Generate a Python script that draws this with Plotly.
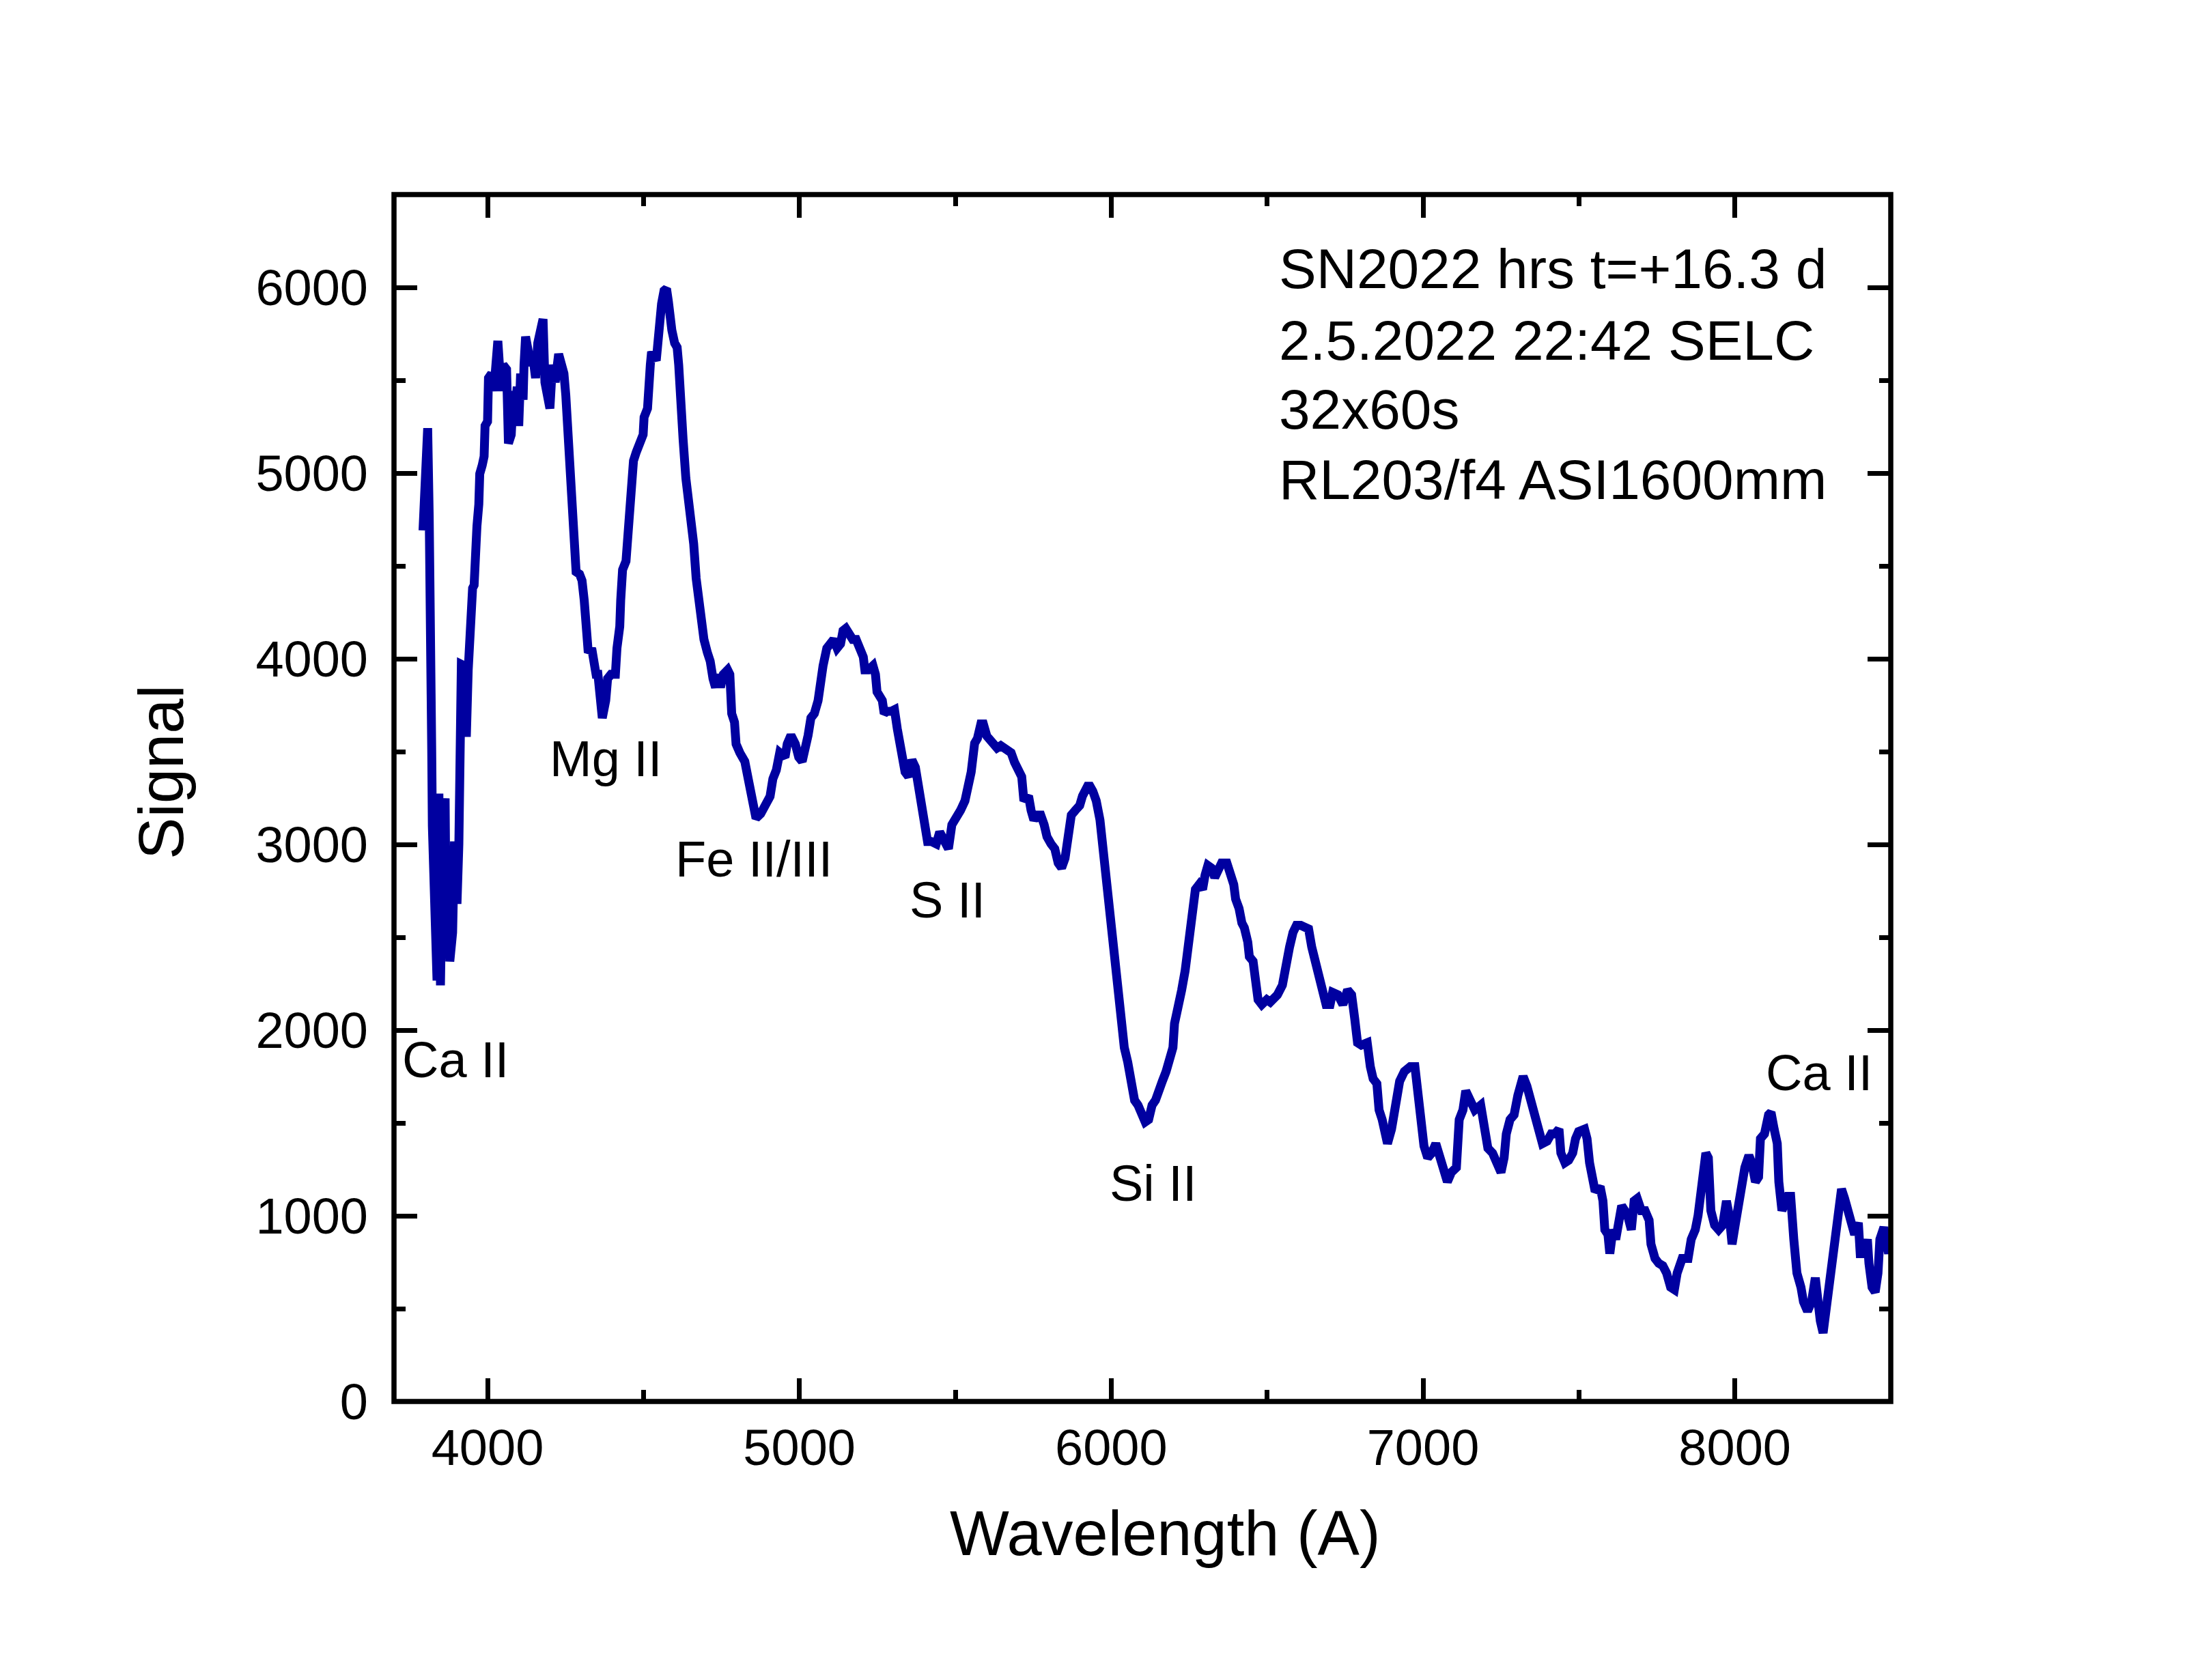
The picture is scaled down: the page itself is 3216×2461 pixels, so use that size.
import plotly.graph_objects as go

# ---- data ----
WAVELENGTH = [
    3793, 3799, 3808, 3813, 3816, 3819, 3821, 3823, 3826, 3830, 3838, 3844, 3849, 3857, 3864, 3868,
    3875, 3879, 3888, 3894, 3902, 3908, 3912, 3916, 3928, 3932, 3938, 3944, 3952, 3957, 3961, 3966,
    3972, 3975, 3983, 3989, 3992, 4000, 4003, 4013, 4020, 4024, 4033, 4039, 4044, 4050, 4061, 4067,
    4076, 4083, 4087, 4095, 4100, 4106, 4114, 4117, 4122, 4131, 4139, 4147, 4154, 4161, 4169, 4178,
    4184, 4189, 4195, 4200, 4208, 4217, 4228, 4236, 4245, 4251, 4256, 4264, 4267, 4273, 4279, 4284,
    4295, 4303, 4310, 4318, 4323, 4334, 4342, 4348, 4354, 4359, 4368, 4379, 4385, 4396, 4410, 4415,
    4424, 4427, 4433, 4444, 4452, 4459, 4468, 4477, 4488, 4499, 4502, 4513, 4522, 4526, 4541, 4546,
    4552, 4558, 4566, 4574, 4580, 4583, 4591, 4600, 4608, 4613, 4619, 4627, 4636, 4645, 4652, 4661,
    4669, 4678, 4686, 4694, 4705, 4714, 4723, 4731, 4738, 4747, 4756, 4770, 4777, 4783, 4792, 4797,
    4809, 4825, 4836, 4845, 4853, 4861, 4876, 4892, 4906, 4915, 4926, 4937, 4954, 4961, 4973, 4987,
    4998, 5009, 5017, 5028, 5037, 5048, 5060, 5069, 5076, 5088, 5099, 5110, 5121, 5132, 5140, 5149,
    5158, 5171, 5182, 5194, 5205, 5210, 5221, 5236, 5244, 5249, 5258, 5266, 5272, 5281, 5294, 5305,
    5314, 5325, 5339, 5350, 5361, 5372, 5383, 5395, 5406, 5411, 5423, 5439, 5450, 5462, 5478, 5489,
    5501, 5517, 5531, 5540, 5551, 5562, 5571, 5582, 5590, 5601, 5618, 5634, 5646, 5662, 5679, 5690,
    5701, 5713, 5720, 5735, 5743, 5752, 5763, 5774, 5785, 5794, 5807, 5819, 5830, 5841, 5852, 5863,
    5872, 5885, 5899, 5908, 5919, 5928, 5941, 5952, 5964, 5975, 5986, 5997, 6008, 6019, 6031, 6042,
    6053, 6064, 6075, 6086, 6097, 6109, 6120, 6131, 6142, 6153, 6164, 6176, 6187, 6198, 6203, 6215,
    6226, 6237, 6245, 6251, 6263, 6270, 6282, 6293, 6301, 6310, 6321, 6332, 6343, 6354, 6371, 6382,
    6393, 6399, 6410, 6419, 6427, 6438, 6443, 6455, 6463, 6471, 6483, 6499, 6510, 6521, 6533, 6549,
    6555, 6561, 6572, 6583, 6594, 6608, 6620, 6633, 6643, 6651, 6660, 6670, 6680, 6689, 6702, 6710,
    6727, 6743, 6758, 6771, 6781, 6790, 6802, 6821, 6831, 6840, 6852, 6859, 6869, 6877, 6886, 6899,
    6909, 6919, 6925, 6940, 6959, 6974, 6984, 6994, 7003, 7015, 7028, 7041, 7053, 7066, 7078, 7091,
    7107, 7116, 7128, 7137, 7154, 7166, 7185, 7195, 7208, 7223, 7238, 7250, 7260, 7267, 7279, 7292,
    7304, 7313, 7321, 7333, 7346, 7354, 7363, 7373, 7383, 7398, 7411, 7423, 7436, 7442, 7455, 7467,
    7480, 7489, 7499, 7518, 7526, 7534, 7543, 7552, 7568, 7577, 7583, 7593, 7599, 7609, 7618, 7627,
    7637, 7647, 7656, 7668, 7677, 7687, 7700, 7712, 7725, 7731, 7744, 7756, 7769, 7781, 7794, 7806,
    7815, 7831, 7850, 7860, 7873, 7882, 7894, 7907, 7915, 7923, 7935, 7948, 7961, 7973, 7982, 7991,
    8001, 8011, 8020, 8032, 8045, 8054, 8066, 8076, 8082, 8095, 8108, 8116, 8126, 8136, 8141, 8151,
    8170, 8179, 8189, 8199, 8212, 8220, 8233, 8246, 8258, 8264, 8274, 8283, 8290, 8300, 8312, 8321,
    8330, 8342, 8352, 8365, 8375, 8384, 8396, 8402, 8415, 8425, 8430, 8440, 8450, 8459, 8465, 8478,
    8493, 8500,
]
SIGNAL = [
    4691, 4949, 5242, 4761, 4479, 3900, 3500, 3100, 2800, 2758, 2267, 3274, 2241, 3093, 3248, 2422,
    2887, 2370, 2525, 3016, 2680, 3000, 3300, 3970, 3960, 3580, 3940, 4245, 4380, 4397, 4620, 4714,
    4832, 4996, 5043, 5090, 5254, 5278, 5512, 5536, 5442, 5583, 5712, 5559, 5442, 5583, 5559, 5160,
    5207, 5442, 5278, 5465, 5254, 5536, 5395, 5583, 5735, 5653, 5583, 5606, 5512, 5700, 5794, 5829,
    5489, 5418, 5371, 5348, 5583, 5489, 5641, 5583, 5536, 5418, 5278, 5137, 4902, 4738, 4573, 4468,
    4456, 4421, 4315, 4127, 4033, 4057, 3963, 3916, 3916, 3799, 3681, 3775, 3893, 3916, 3916, 4057,
    4174, 4315, 4479, 4526, 4714, 4832, 5066, 5113, 5160, 5207, 5301, 5348, 5583, 5653, 5606, 5723,
    5794, 5911, 5982, 5993, 5923, 5817, 5770, 5700, 5677, 5583, 5348, 5184, 4972, 4855, 4691, 4620,
    4433, 4268, 4245, 4104, 4033, 3987, 3893, 3846, 3916, 3846, 3916, 3940, 3916, 3705, 3658, 3541,
    3494, 3447, 3353, 3282, 3235, 3141, 3165, 3212, 3259, 3353, 3400, 3494, 3470, 3541, 3588, 3541,
    3470, 3447, 3541, 3588, 3681, 3705, 3775, 3916, 3963, 4057, 4080, 4104, 4057, 4080, 4151, 4163,
    4139, 4104, 4104, 4057, 4010, 3940, 3940, 3963, 3916, 3822, 3799, 3775, 3705, 3717, 3717, 3726,
    3623, 3494, 3390, 3365, 3455, 3416, 3313, 3210, 3080, 3016, 3016, 3003, 3067, 3016, 2977, 3106,
    3132, 3184, 3235, 3287, 3390, 3545, 3571, 3649, 3649, 3584, 3558, 3519, 3532, 3519, 3494, 3442,
    3390, 3365, 3235, 3261, 3184, 3132, 3158, 3158, 3106, 3042, 3003, 2977, 2900, 2874, 2926, 3029,
    3158, 3184, 3210, 3261, 3313, 3326, 3287, 3235, 3132, 2951, 2800, 2600, 2422, 2216, 2061, 1906,
    1828, 1725, 1622, 1596, 1544, 1505, 1518, 1596, 1622, 1660, 1725, 1777, 1828, 1906, 2035, 2112,
    2216, 2319, 2422, 2551, 2655, 2758, 2784, 2758, 2835, 2887, 2874, 2822, 2861, 2900, 2900, 2848,
    2784, 2706, 2655, 2577, 2551, 2474, 2396, 2371, 2293, 2164, 2138, 2164, 2151, 2164, 2190, 2242,
    2319, 2396, 2448, 2526, 2564, 2564, 2551, 2545, 2448, 2396, 2319, 2280, 2190, 2138, 2138, 2203,
    2190, 2138, 2216, 2190, 2061, 1932, 1919, 1932, 1803, 1738, 1712, 1570, 1518, 1415, 1389, 1467,
    1570, 1648, 1725, 1777, 1803, 1803, 1648, 1518, 1376, 1312, 1338, 1389, 1325, 1247, 1183, 1234,
    1260, 1518, 1570, 1673, 1596, 1570, 1596, 1467, 1364, 1338, 1260, 1234, 1312, 1441, 1518, 1544,
    1648, 1725, 1751, 1699, 1622, 1583, 1518, 1480, 1389, 1402, 1441, 1441, 1467, 1338, 1286, 1299,
    1338, 1415, 1454, 1467, 1415, 1286, 1183, 1131, 1157, 1080, 925, 899, 796, 925, 873, 950,
    1054, 1028, 1002, 925, 1080, 1093, 1028, 1028, 976, 847, 770, 744, 731, 692, 615, 602,
    692, 770, 770, 873, 925, 1002, 1157, 1338, 1312, 1028, 950, 925, 950, 1080, 1002, 847,
    950, 1054, 1209, 1260, 1325, 1286, 1183, 1209, 1415, 1441, 1544, 1557, 1467, 1389, 1183, 1028,
    1105, 1105, 873, 692, 615, 537, 486, 537, 666, 537, 434, 369, 460, 666, 770, 860,
    1028, 1144, 1093, 1002, 912, 899, 963, 796, 796, 873, 744, 615, 589, 692, 873, 938,
    796, 900,
]

X_RANGE = [3700, 8500]
Y_RANGE = [0, 6500]

LINE_LABELS = ["Ca II", "Mg II", "Fe II/III", "S II", "Si II", "Ca II"]
LABEL_X = [3898, 4378, 4855, 5475, 6134, 8271]
LABEL_Y = [1840, 3463, 2922, 2700, 1176, 1769]

INFO_LINES = ["SN2022 hrs t=+16.3 d", "2.5.2022 22:42 SELC", "32x60s", "RL203/f4 ASI1600mm"]
INFO_X = 6534
INFO_Y = [6101, 5716, 5345, 4965]

X_TITLE = "Wavelength (A)"
Y_TITLE = "Signal"

FONT = "Arial, 'Liberation Sans', sans-serif"
LINE_COLOR = "#0000A0"

fig = go.Figure()
fig.add_trace(go.Scatter(
    x=WAVELENGTH, y=SIGNAL, mode="lines",
    line=dict(color=LINE_COLOR, width=13),
    showlegend=False, hoverinfo="skip",
))

for txt, lx, ly in zip(LINE_LABELS, LABEL_X, LABEL_Y):
    fig.add_annotation(x=lx, y=ly, text=txt, showarrow=False, xanchor="center", yanchor="middle",
                       font=dict(family=FONT, size=74, color="black"))

for txt, iy in zip(INFO_LINES, INFO_Y):
    fig.add_annotation(x=INFO_X, y=iy, text=txt, showarrow=False, xanchor="left", yanchor="middle",
                       font=dict(family=FONT, size=82, color="black"))

# axis titles
fig.add_annotation(x=0.5155, y=-0.1092, xref="paper", yref="paper", text=X_TITLE, showarrow=False,
                   xanchor="center", yanchor="middle", font=dict(family=FONT, size=92, color="black"))
fig.add_annotation(x=-0.1556, y=0.5215, xref="paper", yref="paper", text=Y_TITLE, showarrow=False,
                   textangle=-90, xanchor="center", yanchor="middle",
                   font=dict(family=FONT, size=92, color="black"))

# frame centred on the plotting-area boundary
fig.add_shape(type="rect", xref="paper", yref="paper", x0=0, x1=1, y0=0, y1=1,
              line=dict(color="black", width=7.5), fillcolor="rgba(0,0,0,0)", layer="above")

axis_common = dict(
    showline=False, mirror="allticks",
    ticks="inside", ticklen=34, tickwidth=7, tickcolor="black",
    showgrid=False, zeroline=False,
    tickfont=dict(family=FONT, size=74, color="black"),
)

fig.update_xaxes(
    range=X_RANGE, tick0=0, dtick=1000,
    minor=dict(dtick=500, ticks="inside", ticklen=17, tickwidth=7, tickcolor="black", showgrid=False),
    ticklabelstandoff=18,
    **axis_common,
)
fig.update_yaxes(
    range=Y_RANGE, tick0=0, dtick=1000,
    minor=dict(dtick=500, ticks="inside", ticklen=17, tickwidth=7, tickcolor="black", showgrid=False),
    ticklabelstandoff=37,
    **axis_common,
)

fig.update_layout(
    width=3216, height=2461,
    margin=dict(l=577, r=447, t=285, b=408),
    paper_bgcolor="white", plot_bgcolor="white",
    font=dict(family=FONT, color="black"),
)

fig.write_html("out.html")
